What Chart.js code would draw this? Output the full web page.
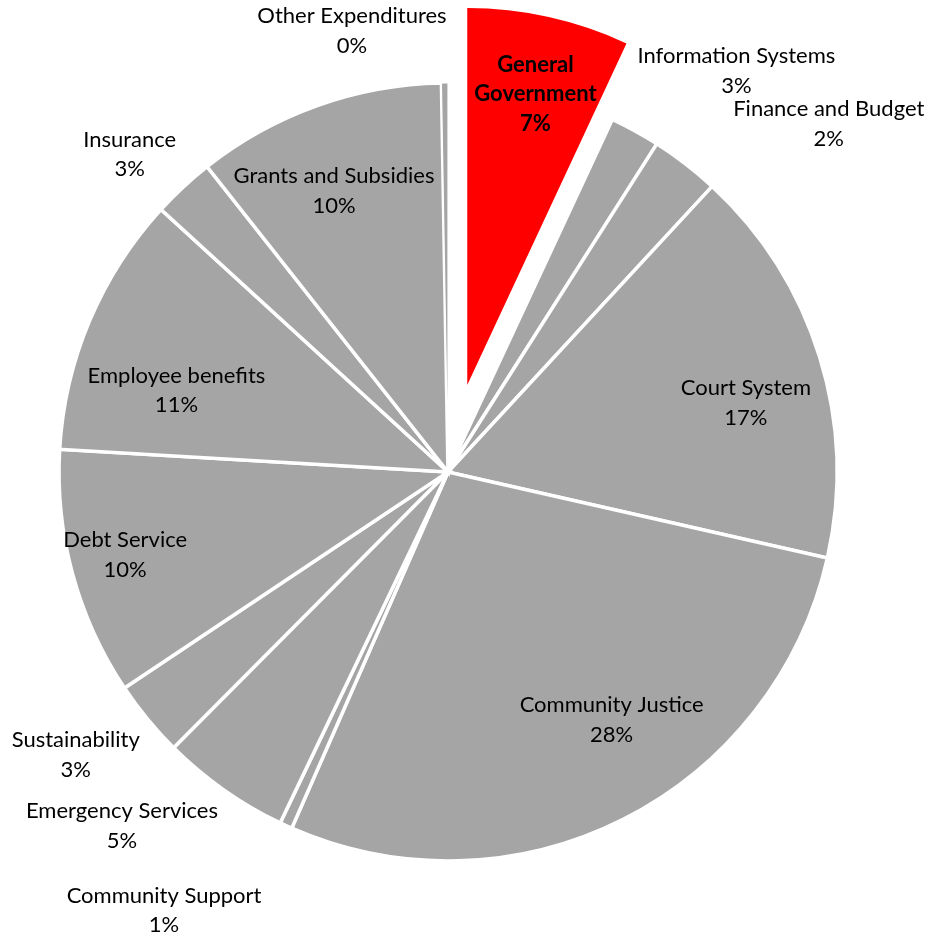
<!DOCTYPE html>
<html>
<head>
<meta charset="utf-8">
<script src="https://cdn.jsdelivr.net/npm/chart.js@4.4.1/dist/chart.umd.min.js"></script>
<style>
  html, body { margin: 0; padding: 0; background: #ffffff; }
  #wrap { width: 928px; height: 934px; }
</style>
</head>
<body>
<div id="wrap"><canvas id="c" width="928" height="934"></canvas></div>
<script>
// ---- data ----
const categories = [
  "General Government", "Finance and Budget", "Information Systems", "Court System",
  "Community Justice", "Community Support", "Emergency Services", "Sustainability",
  "Debt Service", "Employee benefits", "Insurance", "Grants and Subsidies", "Other Expenditures"
];
const shares = [6.94, 2.08, 2.86, 16.67, 28.03, 0.52, 5.36, 3.17, 10.30, 10.86, 2.58, 10.36, 0.27];

// ---- styling / label layout (not data) ----
const sliceColors = ["#FF0000", "#A5A5A5", "#A5A5A5", "#A5A5A5", "#A5A5A5", "#A5A5A5", "#A5A5A5",
                     "#A5A5A5", "#A5A5A5", "#A5A5A5", "#A5A5A5", "#A5A5A5", "#A5A5A5"];
const sliceBorderWidths = [0, 3.5, 3.5, 3.5, 3.5, 3.5, 3.5, 3.5, 3.5, 3.5, 3.5, 3.5, 1.2];
const explodedIndex = 0;
const explodeDistance = 89;
const explodedRadiusLoss = 12;
// label placement: radius as fraction of pie radius, angular nudge in degrees (clockwise)
const labelRadiusFactor = [0.768, 1.326, 1.27, 0.786, 0.764, 1.343, 1.237, 1.202, 0.857, 0.729, 1.156, 0.78, 1.16];
const labelAngleShift   = [0.7, 18.85, -1.9, 4.2, -6.65, 8.3, 7.45, 2.2, 0.75, -6.15, -2.15, -2.45, -11.8];
const boldLabel = [true, false, false, false, false, false, false, false, false, false, false, false, false];
const FONT_FAMILY = "Lato, 'Open Sans', sans-serif";
const FONT_SIZE = 22;
const LINE_HEIGHT = 29.5;

const explodePlugin = {
  id: 'explode',
  afterDatasetsUpdate(chart) {
    const meta = chart.getDatasetMeta(0);
    const el = meta.data[explodedIndex];
    if (!el) return;
    const mid = (el.startAngle + el.endAngle) / 2;
    el.x = el.x + Math.cos(mid) * explodeDistance;
    el.y = el.y + Math.sin(mid) * explodeDistance;
    el.outerRadius = el.outerRadius - explodedRadiusLoss;
  }
};

const labelPlugin = {
  id: 'sliceLabels',
  afterDatasetsDraw(chart) {
    const ctx = chart.ctx;
    const meta = chart.getDatasetMeta(0);
    const data = chart.data.datasets[0].data;
    const total = data.reduce((a, b) => a + b, 0);
    const baseR = meta.data[1].outerRadius;
    ctx.save();
    ctx.fillStyle = "#000000";
    ctx.textAlign = "center";
    ctx.textBaseline = "middle";
    meta.data.forEach((el, i) => {
      const mid = (el.startAngle + el.endAngle) / 2 + labelAngleShift[i] * Math.PI / 180;
      const r = baseR * labelRadiusFactor[i];
      const x = el.x + Math.cos(mid) * r;
      const y = el.y + Math.sin(mid) * r;
      const pct = Math.round(data[i] / total * 100) + "%";
      // "General Government" wraps onto two lines inside its slice, as in the reference
      let textLines = (i === explodedIndex) ? chart.data.labels[i].split(" ") : [chart.data.labels[i]];
      textLines = textLines.concat([pct]);
      ctx.font = (boldLabel[i] ? "bold " : "") + FONT_SIZE + "px " + FONT_FAMILY;
      const n = textLines.length;
      textLines.forEach((t, k) => {
        ctx.fillText(t, x, y + (k - (n - 1) / 2) * LINE_HEIGHT);
      });
    });
    ctx.restore();
  }
};

new Chart(document.getElementById('c'), {
  type: 'pie',
  data: {
    labels: categories,
    datasets: [{
      data: shares,
      backgroundColor: sliceColors,
      borderColor: "#FFFFFF",
      borderWidth: sliceBorderWidths,
      borderJoinStyle: 'miter'
    }]
  },
  options: {
    responsive: false,
    animation: false,
    radius: 389,
    layout: { padding: { left: 0, right: 32, top: 10, bottom: 0 } },
    plugins: {
      legend: { display: false },
      tooltip: { enabled: false },
      title: { display: false }
    }
  },
  plugins: [explodePlugin, labelPlugin]
});
</script>
</body>
</html>
